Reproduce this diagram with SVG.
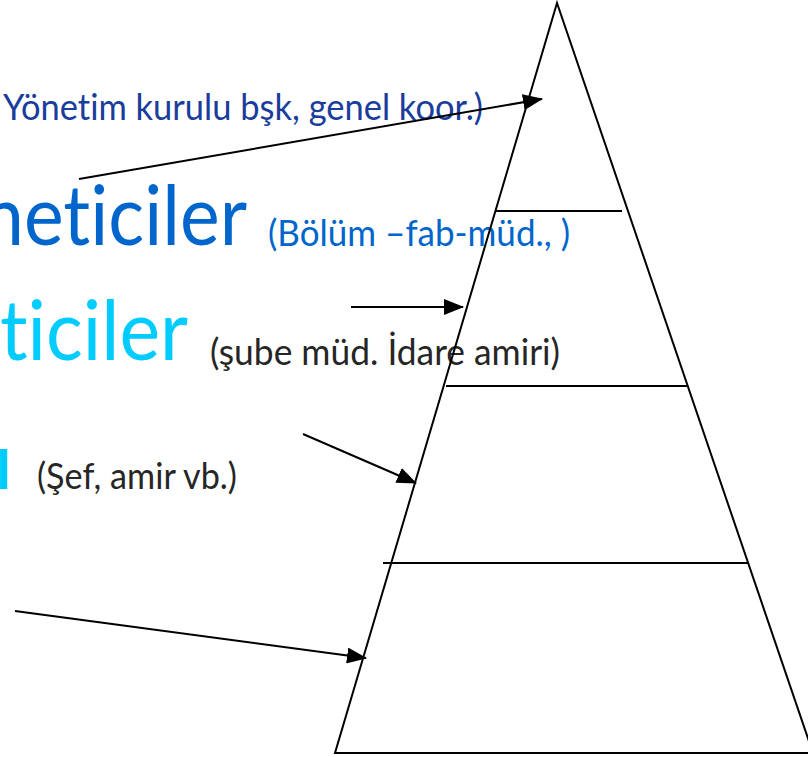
<svg xmlns="http://www.w3.org/2000/svg" width="808" height="757" viewBox="0 0 808 757">
  <style>
    .t { font-family: Lato, "Open Sans", "Liberation Sans", sans-serif; font-variant-ligatures: none; font-feature-settings: "liga" 0, "clig" 0; }
    .big { font-size: 84px; }
    .small { font-size: 37px; }
    .edge { fill: none; stroke: #000; stroke-width: 2; }
    .conn { fill: none; stroke: #000; stroke-width: 2; }
  </style>
  <defs>
    <marker id="ah" markerUnits="userSpaceOnUse" markerWidth="20" markerHeight="16" viewBox="0 0 20 16" refX="19" refY="8" orient="auto">
      <path d="M0,0 L20,8 L0,16 Z" fill="#000"/>
    </marker>
  </defs>
  <rect width="808" height="757" fill="#fff"/>

  <g id="label-top">
    <text class="t small" x="3" y="120" fill="#1A3D9C" textLength="480" lengthAdjust="spacingAndGlyphs">Yönetim kurulu bşk, genel koor.)</text>
  </g>
  <g id="label-upper">
    <text class="t big" x="-18" y="245" fill="#0066CC" textLength="265" lengthAdjust="spacingAndGlyphs">neticiler</text>
    <text class="t small" x="268" y="246" fill="#0066CC" textLength="302" lengthAdjust="spacingAndGlyphs">(Bölüm –fab-müd., )</text>
  </g>
  <g id="label-middle">
    <text class="t big" x="0" y="360" fill="#00CCFF" textLength="188" lengthAdjust="spacingAndGlyphs">ticiler</text>
    <text class="t small" x="210" y="365" fill="#262626" textLength="350" lengthAdjust="spacingAndGlyphs">(şube müd. İdare amiri)</text>
  </g>
  <g id="label-lower">
    <text class="t" style="font-size:80px" x="-6" y="489" fill="#00CCFF">ı</text>
    <text class="t small" x="37" y="489" fill="#262626" textLength="200" lengthAdjust="spacingAndGlyphs">(Şef, amir vb.)</text>
  </g>

  <g id="pyramid">
    <polygon class="edge" points="557,3 335,753 813,753"/>
    <line class="edge" x1="496" y1="211" x2="622" y2="211"/>
    <line class="edge" x1="446" y1="386" x2="687" y2="386"/>
    <line class="edge" x1="383" y1="563" x2="749" y2="563"/>
  </g>

  <g id="connectors">
    <line class="conn" x1="79" y1="179" x2="542" y2="99" marker-end="url(#ah)"/>
    <line class="conn" x1="351" y1="307" x2="463" y2="307" marker-end="url(#ah)"/>
    <line class="conn" x1="303" y1="434" x2="416" y2="483" marker-end="url(#ah)"/>
    <line class="conn" x1="15" y1="611" x2="366" y2="658" marker-end="url(#ah)"/>
  </g>
</svg>
